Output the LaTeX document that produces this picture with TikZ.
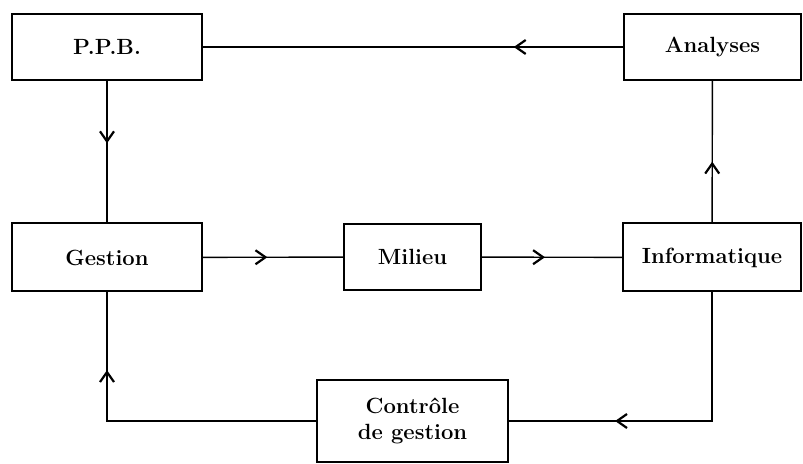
\documentclass[tikz,border=0pt]{standalone}
\usepackage{tikz}
\usetikzlibrary{arrows.meta,decorations.markings}

\begin{document}
\begin{tikzpicture}[x=0.5pt,y=-0.5pt,
            box/.style={draw,rectangle,line width=1pt,font=\fontsize{11}{13}\selectfont\bfseries,align=center,inner sep=0pt},
            wide/.style={box,minimum width=95pt,minimum height=33pt},
            flow/.style={line width=0.7pt,decoration={markings,
                mark=at position #1 with {\arrow{Straight Barb[length=5pt,width=7pt,line width=1.1pt]}}},
                postaction={decorate}}
          ]
          \useasboundingbox (0,0) rectangle (803,464);

          %boxes
          \node[wide] (ppb) at (107,47) {P.P.B.};
          \node[box,minimum width=88.5pt,minimum height=33pt] (ana) at (712.5,47) {Analyses};
          \node[wide,minimum height=34pt] (gest) at (107,257.5) {Gestion};
          \node[box,minimum width=68.5pt,minimum height=33pt] (mil) at (412.5,257) {Milieu};
          \node[box,minimum width=89pt,minimum height=34pt] (info) at (712,257.5) {Informatique};
          \node[box,minimum width=95.5pt,minimum height=41pt] (ctrl) at (412.5,421) {Contr\^ole\\de gestion};

          %links
          \draw[flow=0.26] (ana) -- (ppb);
          \draw[flow=0.44] (ppb) -- (gest);
          \draw[flow=0.46] (gest) -- (mil);
          \draw[flow=0.45] (mil) -- (info);
          \draw[flow=0.43] (info) -- (ana);
          \draw[flow=0.68] (info.south) |- (ctrl.east);
          \draw[flow=0.77] (ctrl.west) -| (gest.south);

      \end{tikzpicture}
\end{document}
